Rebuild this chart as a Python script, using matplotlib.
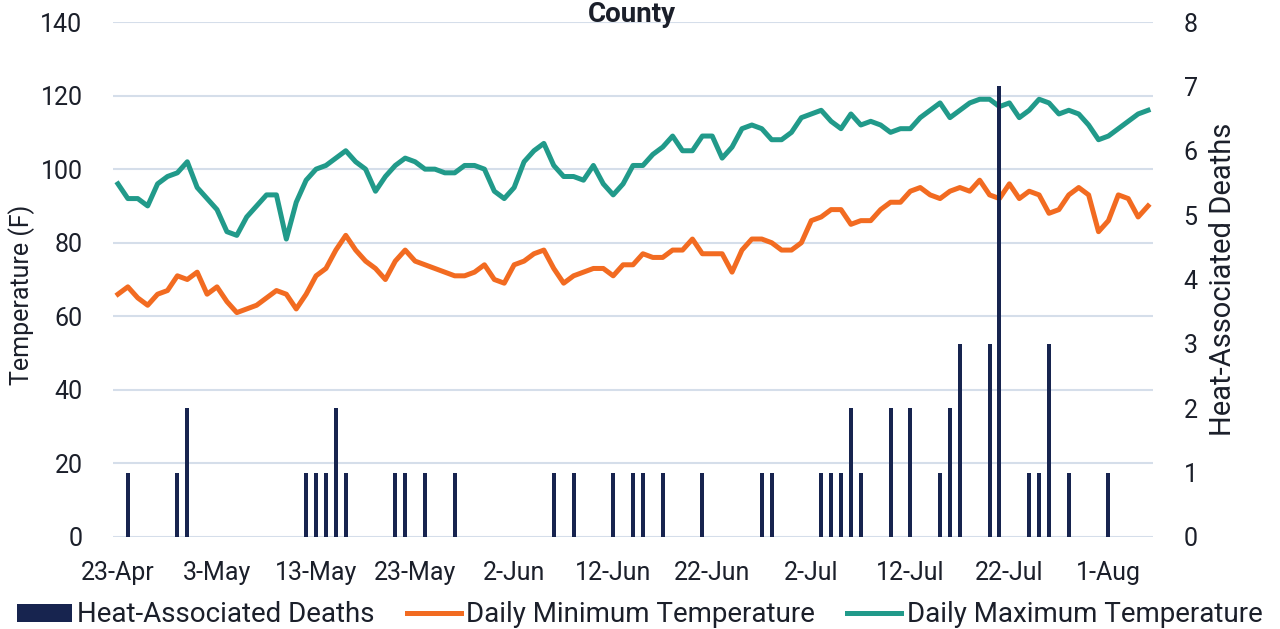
import matplotlib
matplotlib.use("Agg")
import matplotlib.pyplot as plt
import numpy as np
import pandas as pd
from matplotlib.patches import Patch
from matplotlib.lines import Line2D

plt.rcParams['font.family'] = ['Roboto', 'DejaVu Sans']

# daily series, 23-Apr through 5-Aug
start_date = "2023-04-23"
max_temp = [96, 92, 92, 90, 96, 98, 99, 102, 95, 92, 89, 83, 82, 87, 90, 93, 93, 81,
            91, 97, 100, 101, 103, 105, 102, 100, 94, 98, 101, 103, 102, 100, 100, 99,
            99, 101, 101, 100, 94, 92, 95, 102, 105, 107, 101, 98, 98, 97, 101, 96, 93,
            96, 101, 101, 104, 106, 109, 105, 105, 109, 109, 103, 106, 111, 112, 111,
            108, 108, 110, 114, 115, 116, 113, 111, 115, 112, 113, 112, 110, 111, 111,
            114, 116, 118, 114, 116, 118, 119, 119, 117, 118, 114, 116, 119, 118, 115,
            116, 115, 112, 108, 109, 111, 113, 115, 116]
min_temp = [66, 68, 65, 63, 66, 67, 71, 70, 72, 66, 68, 64, 61, 62, 63, 65, 67, 66,
            62, 66, 71, 73, 78, 82, 78, 75, 73, 70, 75, 78, 75, 74, 73, 72, 71, 71,
            72, 74, 70, 69, 74, 75, 77, 78, 73, 69, 71, 72, 73, 73, 71, 74, 74, 77,
            76, 76, 78, 78, 81, 77, 77, 77, 72, 78, 81, 81, 80, 78, 78, 80, 86, 87,
            89, 89, 85, 86, 86, 89, 91, 91, 94, 95, 93, 92, 94, 95, 94, 97, 93, 92,
            96, 92, 94, 93, 88, 89, 93, 95, 93, 83, 86, 93, 92, 87, 90]
# days (offset from start) with heat-associated deaths, and the counts
death_days = [1, 6, 7, 19, 20, 21, 22, 23, 28, 29, 31, 34, 44, 46, 50, 52, 53, 55,
              59, 65, 66, 71, 72, 73, 74, 75, 78, 80, 83, 84, 85, 88, 89, 92, 93,
              94, 96, 100]
death_counts = [1, 1, 2, 1, 1, 1, 2, 1, 1, 1, 1, 1, 1, 1, 1, 1, 1, 1,
                1, 1, 1, 1, 1, 1, 2, 1, 2, 2, 1, 2, 3, 3, 7, 1, 1,
                3, 1, 1]

dates = pd.date_range(start_date, periods=len(max_temp), freq="D")
x = np.arange(len(dates))
deaths = np.zeros(len(dates))
deaths[death_days] = death_counts

tick_pos = x[::10]
tick_labels = [f"{d.day}-{d.strftime('%b')}" for d in dates[::10]]

c_max = "#219A8A"
c_min = "#F26B21"
c_bar = "#17244F"
c_grid = "#D5DEEA"
c_text = "#1B1F2A"
fs = 18

fig = plt.figure(figsize=(12.8, 6.29), dpi=100)
ax = fig.add_axes([113 / 1280, 1 - 537 / 629, 1040 / 1280, 515 / 629])
ax2 = ax.twinx()

ax.plot(x, min_temp, color=c_min, lw=3.6, solid_joinstyle='round', zorder=3)
ax.plot(x, max_temp, color=c_max, lw=3.6, solid_joinstyle='round', zorder=3)
ax2.bar(x, deaths, width=0.4, color=c_bar, zorder=4)

ax.set_xlim(-0.5, len(x) - 0.5)
ax.set_ylim(0, 140)
ax.set_yticks(np.arange(0, 141, 20))
ax2.set_ylim(0, 8)
ax2.set_yticks(np.arange(0, 9, 1))
ax.set_xticks(tick_pos)
ax.set_xticklabels(tick_labels)

ax.grid(axis='y', color=c_grid, lw=1.5, zorder=0)
ax.set_axisbelow(True)
for a in (ax, ax2):
    for s in a.spines.values():
        s.set_visible(False)
    a.tick_params(length=0, labelsize=fs, colors=c_text)
ax.tick_params(axis='x', pad=17)
ax.tick_params(axis='y', pad=22)
ax2.tick_params(axis='y', pad=22)

ax.set_ylabel("Temperature (F)", fontsize=fs, color=c_text, va='center')
ax.yaxis.set_label_coords(-0.0875, 0.47)
ax2.set_ylabel("Heat-Associated Deaths", fontsize=21, color=c_text, va='center')
ax2.yaxis.set_label_coords(1.067, 0.5)

fig.text(632 / 1280, 1 - 1 / 629, "County", ha='center', va='top',
         fontsize=20, fontweight='bold', color=c_text)

handles = [Patch(facecolor=c_bar, edgecolor='none'),
           Line2D([], [], color=c_min, lw=3.6),
           Line2D([], [], color=c_max, lw=3.6)]
labels = ["Heat-Associated Deaths", "Daily Minimum Temperature",
          "Daily Maximum Temperature"]
leg = fig.legend(handles, labels, loc='center', bbox_to_anchor=(640 / 1280, 1 - 615 / 629),
                 ncol=3, frameon=False, fontsize=20, handlelength=1.95,
                 handletextpad=0.2, columnspacing=1.15, handleheight=0.6,
                 borderpad=0)
for t in leg.get_texts():
    t.set_color(c_text)

fig.savefig("out.png", dpi=100)
